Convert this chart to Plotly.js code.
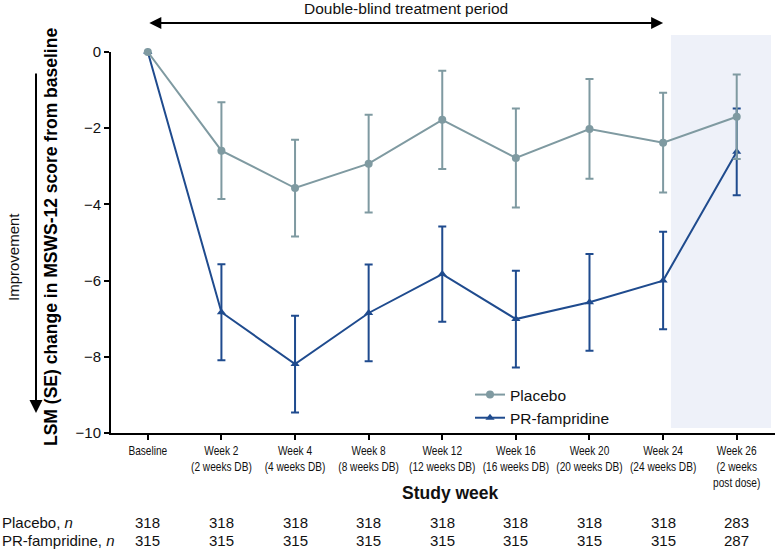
<!DOCTYPE html>
<html>
<head>
<meta charset="utf-8">
<script src="https://cdn.plot.ly/plotly-3.0.1.min.js"></script>
<style>html,body{margin:0;padding:0;background:#fff;}#chart{width:777px;height:550px;}</style>
</head>
<body>
<div id="chart"></div>
<script>
// ---- data ----
var categories = ["Baseline", "Week 2", "Week 4", "Week 8", "Week 12", "Week 16", "Week 20", "Week 24", "Week 26"];
var tickLabels = [
  "Baseline",
  "Week 2<br>(2 weeks DB)",
  "Week 4<br>(4 weeks DB)",
  "Week 8<br>(8 weeks DB)",
  "Week 12<br>(12 weeks DB)",
  "Week 16<br>(16 weeks DB)",
  "Week 20<br>(20 weeks DB)",
  "Week 24<br>(24 weeks DB)",
  "Week 26<br>(2 weeks<br>post dose)"
];
var placeboLSM = [0, -2.59, -3.57, -2.93, -1.78, -2.78, -2.02, -2.38, -1.70];
var placeboSE  = [0, 1.27, 1.27, 1.28, 1.29, 1.30, 1.31, 1.31, 1.11];
var prfLSM     = [0, -6.83, -8.19, -6.85, -5.83, -7.01, -6.57, -6.00, -2.62];
var prfSE      = [0, 1.26, 1.27, 1.27, 1.25, 1.27, 1.27, 1.28, 1.14];
var placeboN   = [318, 318, 318, 318, 318, 318, 318, 318, 283];
var prfN       = [315, 315, 315, 315, 315, 315, 315, 315, 287];

var placeboColor = "#7f9aa1";
var prfColor = "#1f4b8e";
var baseFont = "Liberation Sans, Arial, sans-serif";

var traces = [
  {
    x: categories, y: prfLSM, name: "PR-fampridine", type: "scatter", mode: "lines+markers",
    legendrank: 2, cliponaxis: false,
    line: {color: prfColor, width: 2},
    marker: {symbol: "triangle-up", size: 8, color: prfColor},
    error_y: {type: "data", array: prfSE, symmetric: true, color: prfColor, thickness: 2, width: 4}
  },
  {
    x: categories, y: placeboLSM, name: "Placebo", type: "scatter", mode: "lines+markers",
    legendrank: 1, cliponaxis: false,
    line: {color: placeboColor, width: 2},
    marker: {symbol: "circle", size: 8, color: placeboColor},
    error_y: {type: "data", array: placeboSE, symmetric: true, color: placeboColor, thickness: 2, width: 4}
  }
];

// paper coordinates from pixel positions (plot area: x 111..775, y 52..433)
function py(p) { return (433 - p) / 381; }
function px(p) { return (p - 111) / 664; }

var annotations = [];
// top double arrow
annotations.push({
  xref: "x", yref: "paper", x: 7, y: py(23), axref: "x", ayref: "paper", ax: 0, ay: py(23),
  text: "", showarrow: true, arrowhead: 2, startarrowhead: 2, arrowside: "end+start",
  arrowsize: 1.2, arrowwidth: 2, arrowcolor: "#000"
});
annotations.push({
  xref: "paper", yref: "paper", x: px(406), y: py(8), xanchor: "center", yanchor: "middle",
  text: "Double-blind treatment period", showarrow: false,
  font: {family: baseFont, size: 15.5, color: "#111"}
});
// y-axis title
annotations.push({
  xref: "paper", yref: "paper", x: px(51), y: py(237), xanchor: "center", yanchor: "middle",
  text: "<b>LSM (SE) change in MSWS-12 score from baseline</b>", textangle: -90, showarrow: false,
  font: {family: baseFont, size: 17.5, color: "#000"}
});
// improvement label and arrow
annotations.push({
  xref: "paper", yref: "paper", x: px(13), y: py(257), xanchor: "center", yanchor: "middle",
  text: "Improvement", textangle: -90, showarrow: false,
  font: {family: baseFont, size: 15, color: "#111"}
});
annotations.push({
  xref: "paper", yref: "paper", x: px(36), y: py(413), axref: "pixel", ayref: "pixel",
  ax: 0, ay: -341, text: "", showarrow: true, arrowhead: 2, arrowsize: 1.3, arrowwidth: 2, arrowcolor: "#000"
});
// x-axis title
annotations.push({
  xref: "paper", yref: "paper", x: px(450), y: py(493), xanchor: "center", yanchor: "middle",
  text: "<b>Study week</b>", showarrow: false,
  font: {family: baseFont, size: 17.5, color: "#111"}
});
// n table
annotations.push({
  xref: "paper", yref: "paper", x: px(0), y: py(522), xanchor: "left", yanchor: "middle",
  text: "Placebo, <i>n</i>", showarrow: false, font: {family: baseFont, size: 15, color: "#111"}
});
annotations.push({
  xref: "paper", yref: "paper", x: px(0), y: py(540), xanchor: "left", yanchor: "middle",
  text: "PR-fampridine, <i>n</i>", showarrow: false, font: {family: baseFont, size: 15, color: "#111"}
});
for (var i = 0; i < categories.length; i++) {
  annotations.push({
    xref: "x", yref: "paper", x: categories[i], y: py(522), xanchor: "center", yanchor: "middle",
    text: String(placeboN[i]), showarrow: false, font: {family: baseFont, size: 15, color: "#111"}
  });
  annotations.push({
    xref: "x", yref: "paper", x: categories[i], y: py(540), xanchor: "center", yanchor: "middle",
    text: String(prfN[i]), showarrow: false, font: {family: baseFont, size: 15, color: "#111"}
  });
}

var layout = {
  width: 777, height: 550,
  margin: {l: 111, r: 2, t: 52, b: 117},
  paper_bgcolor: "#fff", plot_bgcolor: "rgba(0,0,0,0)",
  font: {family: baseFont, color: "#111"},
  showlegend: true,
  legend: {
    x: px(470), xanchor: "left", y: py(378), yanchor: "top",
    bgcolor: "rgba(0,0,0,0)", font: {family: baseFont, size: 15.5, color: "#111"},
    tracegroupgap: 4
  },
  xaxis: {
    type: "category", categoryorder: "array", categoryarray: categories,
    range: [-0.5, 8.52], tickmode: "array", tickvals: categories, ticktext: tickLabels,
    tickangle: 0,
    showline: true, linecolor: "#000", linewidth: 2, ticks: "outside", ticklen: 5, tickwidth: 2, tickcolor: "#000",
    showgrid: false, zeroline: false, fixedrange: true,
    tickfont: {family: baseFont, size: 12.5, color: "#111"}
  },
  yaxis: {
    range: [-10, 0], tickvals: [0, -2, -4, -6, -8, -10],
    showline: true, linecolor: "#000", linewidth: 2, ticks: "outside", ticklen: 5, tickwidth: 2, tickcolor: "#000",
    showgrid: false, zeroline: false, fixedrange: true,
    tickfont: {family: baseFont, size: 15, color: "#111"}
  },
  shapes: [{
    type: "rect", xref: "x", yref: "paper", x0: 7.106, x1: 8.465, y0: py(428), y1: py(35),
    fillcolor: "#eef1f9", line: {width: 0}, layer: "below"
  }],
  annotations: annotations
};

Plotly.newPlot("chart", traces, layout, {displayModeBar: false, staticPlot: true}).then(function () {
  // condense the x tick labels horizontally (the original uses a narrow typeface)
  document.querySelectorAll("#chart .xtick text").forEach(function (t) {
    var tr = t.getAttribute("transform") || "";
    t.setAttribute("transform", tr + " scale(0.81,1)");
  });
});
</script>
</body>
</html>
